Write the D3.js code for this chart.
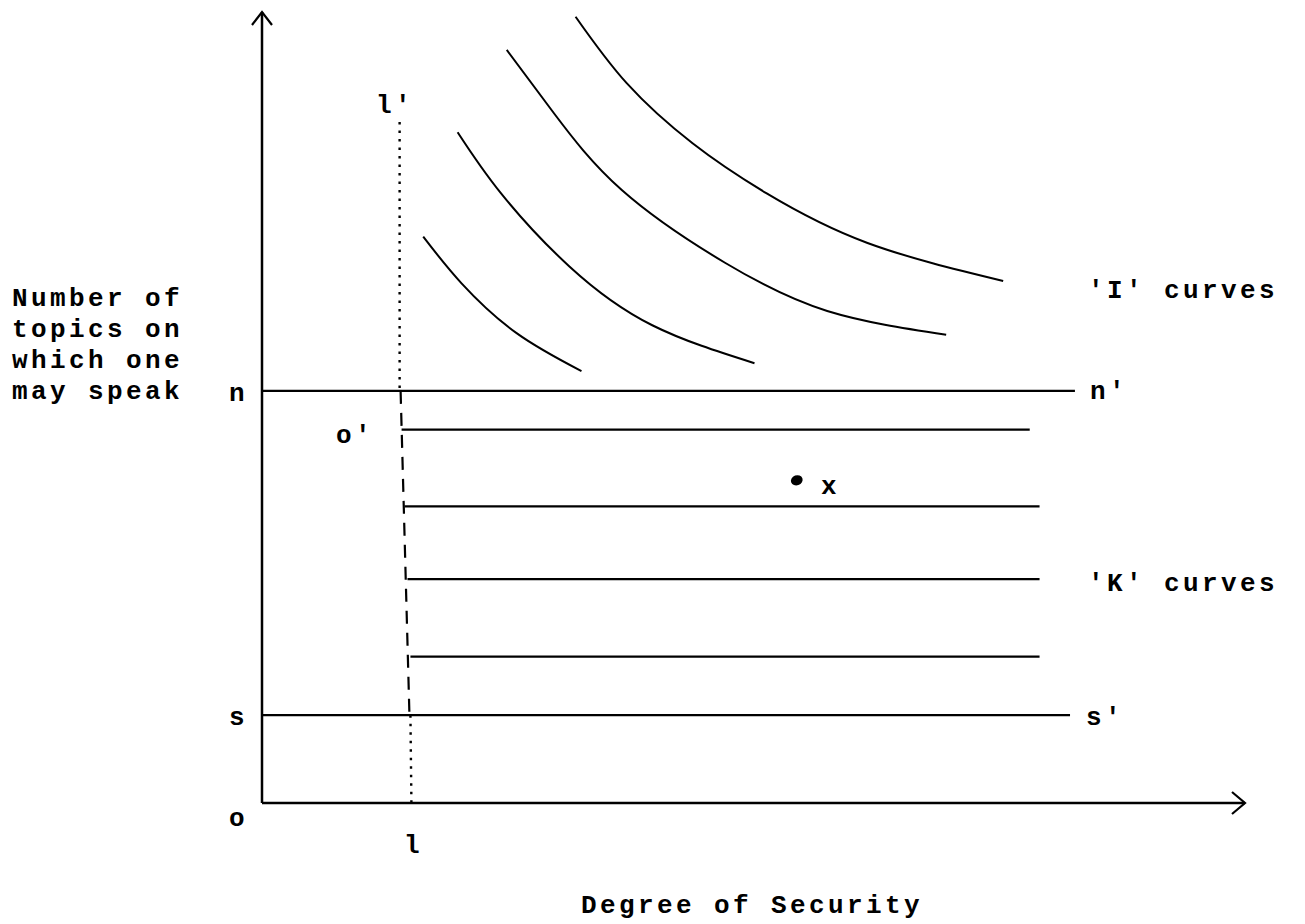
<!DOCTYPE html>
<html>
<head>
<meta charset="utf-8">
<script src="https://cdn.jsdelivr.net/npm/d3@7"></script>
<style>
  body { margin: 0; background: #fff; }
  text { font-family: "Liberation Mono", monospace; font-weight: bold; font-size: 26px; letter-spacing: 3.4px; fill: #000; }
</style>
</head>
<body>
<div id="chart"></div>
<script>
// 'I' curves, each a list of [security, topics] points
const iCurve1 = [[16.4, 71.6], [20.3, 65.7], [25.9, 59.4], [32.5, 54.6]];
const iCurve2 = [[19.9, 84.8], [24.3, 77.1], [31.3, 67.8], [39.7, 60.4], [50.1, 55.6]];
const iCurve3 = [[24.9, 95.2], [29.7, 87.2], [36.6, 77.5], [47.1, 68.3], [57.5, 62.2], [69.6, 59.2]];
const iCurve4 = [[31.9, 99.4], [37.1, 91.0], [43.8, 83.4], [51.3, 77.1], [61.6, 70.8], [75.4, 66.0]];

// 'K' curves (horizontal)
const kLevels = [47.2, 37.5, 28.3, 18.5];
const kStarts = [14.2, 14.5, 14.8, 15.1];
const kEnds = [78.1, 79.1, 79.1, 79.1];

// n and s limits
const nLevel = 52.1;
const nEnd = 82.7;
const sLevel = 11.1;
const sEnd = 82.2;

// the l - l' line: dotted above n, dashed between n and s, dotted below s
const lTop = [[14.0, 86.1], [14.0, nLevel]];
const lMid = [[14.1, nLevel], [15.0, sLevel]];
const lBottom = [[15.1, sLevel], [15.2, 0]];

const pointX = [54.4, 40.8];

const width = 1305;
const height = 924;

const x = d3.scaleLinear().domain([0, 100]).range([262, 1245]);
const y = d3.scaleLinear().domain([0, 100]).range([803, 12]);

const svg = d3.select("#chart")
  .append("svg")
  .attr("width", width)
  .attr("height", height);

const line = d3.line()
  .x((d) => x(d[0]))
  .y((d) => y(d[1]));

const smooth = d3.line()
  .x((d) => x(d[0]))
  .y((d) => y(d[1]))
  .curve(d3.curveNatural);

// axes
svg.append("path")
  .attr("d", line([[0, 0], [0, 100]]))
  .attr("stroke", "#000").attr("stroke-width", 2.5).attr("fill", "none");
svg.append("path")
  .attr("d", line([[0, 0], [100, 0]]))
  .attr("stroke", "#000").attr("stroke-width", 2.5).attr("fill", "none");

// arrow heads
svg.append("path")
  .attr("d", `M${x(0) - 10},${y(100) + 13} L${x(0)},${y(100)} L${x(0) + 10},${y(100) + 13}`)
  .attr("stroke", "#000").attr("stroke-width", 2.2).attr("fill", "none");
svg.append("path")
  .attr("d", `M${x(100) - 13},${y(0) - 11} L${x(100)},${y(0)} L${x(100) - 13},${y(0) + 11}`)
  .attr("stroke", "#000").attr("stroke-width", 2.2).attr("fill", "none");

// n and s lines
svg.append("path")
  .attr("d", line([[0, nLevel], [nEnd, nLevel]]))
  .attr("stroke", "#000").attr("stroke-width", 2.2).attr("fill", "none");
svg.append("path")
  .attr("d", line([[0, sLevel], [sEnd, sLevel]]))
  .attr("stroke", "#000").attr("stroke-width", 2.2).attr("fill", "none");

// l - l' line
[lTop, lBottom].forEach((seg) => {
  svg.append("path")
    .attr("d", line(seg))
    .attr("stroke", "#000").attr("stroke-width", 2.4)
    .attr("stroke-dasharray", "2.5,6").attr("fill", "none");
});
svg.append("path")
  .attr("d", line(lMid))
  .attr("stroke", "#000").attr("stroke-width", 2.2)
  .attr("stroke-dasharray", "13,9").attr("fill", "none");

// K lines
kLevels.forEach((k, i) => {
  svg.append("path")
    .attr("d", line([[kStarts[i], k], [kEnds[i], k]]))
    .attr("stroke", "#000").attr("stroke-width", 2.2).attr("fill", "none");
});

// I curves
[iCurve1, iCurve2, iCurve3, iCurve4].forEach((c) => {
  svg.append("path")
    .attr("d", smooth(c))
    .attr("stroke", "#000").attr("stroke-width", 2).attr("fill", "none");
});

// point x
svg.append("ellipse")
  .attr("cx", x(pointX[0])).attr("cy", y(pointX[1]))
  .attr("rx", 6).attr("ry", 5)
  .attr("transform", `rotate(-20 ${x(pointX[0])} ${y(pointX[1])})`)
  .attr("fill", "#000");

// labels
const labels = [
  { t: "x", x: 821, y: 494 },
  { t: "o", x: 229, y: 826 },
  { t: "s", x: 229, y: 725 },
  { t: "n", x: 229, y: 401 },
  { t: "l'", x: 376, y: 113 },
  { t: "l", x: 404, y: 853 },
  { t: "o'", x: 336, y: 443 },
  { t: "n'", x: 1090, y: 399 },
  { t: "s'", x: 1086, y: 725 },
  { t: "'I' curves", x: 1088, y: 298 },
  { t: "'K' curves", x: 1088, y: 591 },
  { t: "Number of", x: 12, y: 306 },
  { t: "topics on", x: 12, y: 337 },
  { t: "which one", x: 12, y: 368 },
  { t: "may speak", x: 12, y: 399 },
];
svg.selectAll(".lbl")
  .data(labels)
  .enter()
  .append("text")
  .attr("class", "lbl")
  .attr("x", (d) => d.x)
  .attr("y", (d) => d.y)
  .text((d) => d.t);

svg.append("text")
  .attr("x", 752)
  .attr("y", 913)
  .attr("text-anchor", "middle")
  .text("Degree of Security");
</script>
</body>
</html>
